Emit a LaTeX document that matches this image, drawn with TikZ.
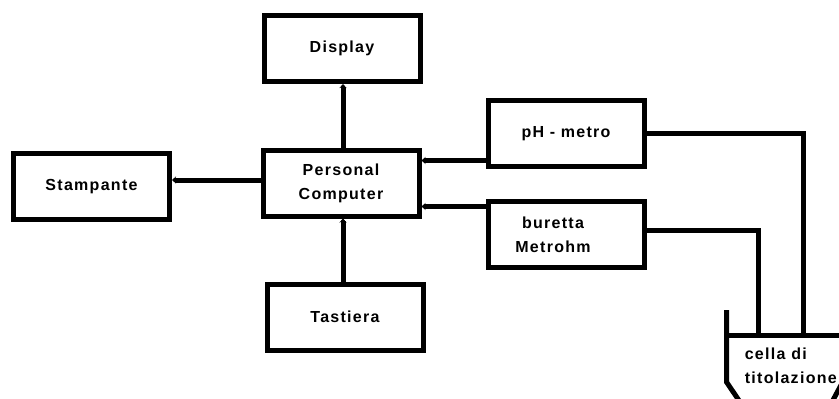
\documentclass[tikz,border=0pt]{standalone}
\usepackage{fontspec}
\setmainfont{Liberation Sans}[LetterSpace=8]
\usetikzlibrary{arrows.meta}

\begin{document}
\begin{tikzpicture}[x=1pt,y=-1pt,line width=5pt,font=\fontsize{16}{24}\selectfont\bfseries]
\tikzstyle{unit}=[draw,rectangle,minimum width=156pt,minimum height=66pt,align=center,inner sep=0pt]
\tikzstyle{link}=[-{Stealth[length=4pt,width=7pt]}]
\useasboundingbox (0,0) rectangle (839,399);
\clip (0,0) rectangle (839,399);
% the units round the computer
\node[unit] (pc) at (341,183) {Personal\\Computer};
\node[unit] (disp) at (342,48.5) {Display};
\node[unit] (stamp) at (91.5,186.5) {Stampante};
\node[unit] (tast) at (345,317) {Tastiera};
\node[unit] (ph) at (566,133.5) {pH - metro};
\node[unit] (bur) at (566,234.5) {buretta\hspace*{26pt}\\Metrohm\hspace*{26pt}};
\draw[link] ([xshift=2pt]pc.north) -- ([xshift=2pt]pc.north |- disp.south);
\draw[link] ([yshift=3pt]pc.west) -- ([yshift=3pt]pc.west -| stamp.east);
\draw[link] ([xshift=-2pt]tast.north) -- ([xshift=-2pt]tast.north |- pc.south);
\draw[link] ([yshift=-27pt]ph.west) -- ([yshift=-27pt]ph.west -| pc.east);
\draw[link] ([yshift=28pt]bur.west) -- ([yshift=28pt]bur.west -| pc.east);
% titration cell
\node[anchor=west,align=left] (cell) at (739,366) {cella di\\titolazione};
\coordinate (phin) at (803,335);
\coordinate (burin) at (758,335);
\draw (ph.east) -| (phin);
\draw ([yshift=4pt]bur.east) -| (burin);
\draw (726.5,310) -- (726.5,382) -- (740,402);
\draw (724,335) -- (845,335);
\draw (848,372) -- (832,402);
\end{tikzpicture}
\end{document}
